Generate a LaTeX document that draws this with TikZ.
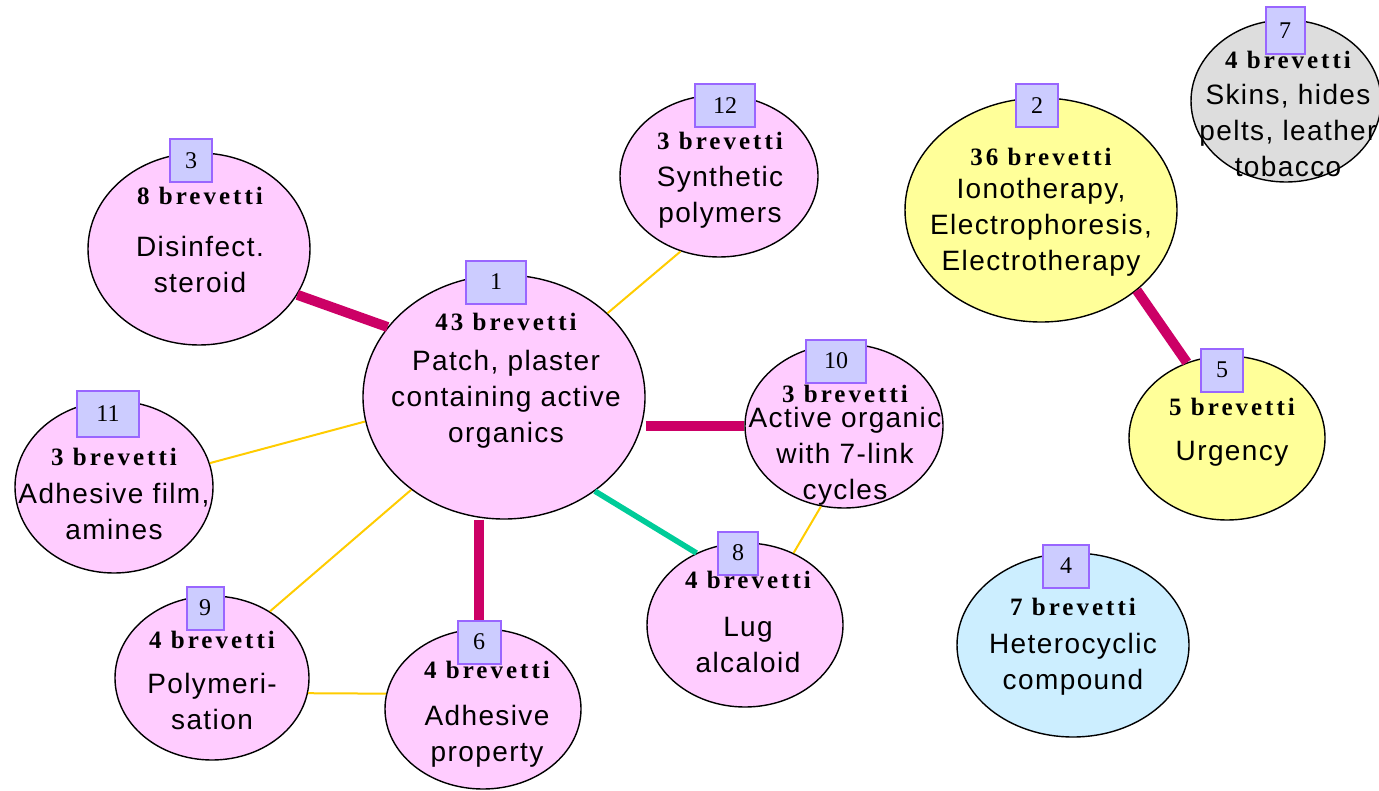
\documentclass[tikz,border=0pt]{standalone}
\usepackage{fontspec}
\setmainfont{Liberation Sans}[LetterSpace=5]
\newfontfamily\brevfont{Liberation Serif}[LetterSpace=12]
\newfontfamily\numfont{Liberation Serif}
\usetikzlibrary{shapes.geometric}
\definecolor{pinkfill}{RGB}{255,204,255}
\definecolor{yellowfill}{RGB}{255,255,153}
\definecolor{grayfill}{RGB}{221,221,221}
\definecolor{bluefill}{RGB}{204,238,255}
\definecolor{boxfill}{RGB}{204,204,255}
\definecolor{boxline}{RGB}{153,102,255}
\definecolor{strong}{RGB}{204,0,102}
\definecolor{mid}{RGB}{0,204,153}
\definecolor{weak}{RGB}{255,204,0}
\newcommand{\brev}[1]{{\brevfont\bfseries\fontsize{12.5}{14}\selectfont #1 brevetti}}

\begin{document}
\begin{tikzpicture}[x=.5pt,y=-.5pt,font=\fontsize{14}{18}\selectfont,
  blob/.style={ellipse,draw=black,line width=.7pt,inner sep=0pt},
  numbox/.style={draw=boxline,line width=1pt,fill=boxfill,minimum height=21.5pt,minimum width=21pt,inner sep=0pt,font=\numfont\fontsize{12}{14}\selectfont},
  txt/.style={align=center,inner sep=0pt},
  strongline/.style={strong,line width=5pt},
  midline/.style={mid,line width=2.8pt},
  weakline/.style={weak,line width=1pt}]
  \useasboundingbox (0,0) rectangle (1379,791);
  \node[blob,fill=pinkfill,minimum width=141pt,minimum height=122pt] (n1) at (504,397) {};
  \node[blob,fill=yellowfill,minimum width=136pt,minimum height=112pt] (n2) at (1041,210) {};
  \node[blob,fill=pinkfill,minimum width=111pt,minimum height=96pt] (n3) at (199,249) {};
  \node[blob,fill=bluefill,minimum width=116pt,minimum height=92pt] (n4) at (1073,645) {};
  \node[blob,fill=yellowfill,minimum width=98pt,minimum height=82pt] (n5) at (1227,438) {};
  \node[blob,fill=pinkfill,minimum width=98pt,minimum height=80pt] (n6) at (483,709) {};
  \node[blob,fill=grayfill,minimum width=95pt,minimum height=81pt] (n7) at (1286,101) {};
  \node[blob,fill=pinkfill,minimum width=98pt,minimum height=82pt] (n8) at (745,625) {};
  \node[blob,fill=pinkfill,minimum width=97pt,minimum height=82pt] (n9) at (212,678) {};
  \node[blob,fill=pinkfill,minimum width=99pt,minimum height=82pt] (n10) at (844,426) {};
  \node[blob,fill=pinkfill,minimum width=99pt,minimum height=86pt] (n11) at (114,487) {};
  \node[blob,fill=pinkfill,minimum width=99pt,minimum height=81pt] (n12) at (719,176) {};

  \node[txt] (t1) at (506,381) {\brev{43}\\[2pt]Patch, plaster\\containing active\\organics};
  \node[txt] (t2) at (1041,212) {\brev{36}\\[-1.5pt]Ionotherapy,\\Electrophoresis,\\Electrotherapy};
  \node[txt] (t3) at (200,240) {\brev{8}\\[8pt]Disinfect.\\steroid};
  \node[txt] (t4) at (1073,647) {\brev{7}\\[1pt]Heterocyclic\\compound};
  \node[txt] (t5) at (1232,432) {\brev{5}\\[4.5pt]Urgency};
  \node[txt] (t6) at (487,714) {\brev{4}\\[5.5pt]Adhesive\\property};
  \node[txt] (t7) at (1288,114) {\brev{4}\\Skins, hides\\pelts, leather\\tobacco};
  \node[txt] (t8) at (748,622) {\brev{4}\\[6pt]Lug\\alcaloid};
  \node[txt] (t9) at (212,680) {\brev{4}\\[4.5pt]Polymeri-\\sation};
  \node[txt] (t10) at (845,445) {\brev{3}\\[-5.5pt]Active organic\\with 7-link\\cycles};
  \node[txt] (t11) at (114,494) {\brev{3}\\[1pt]Adhesive film,\\amines};
  \node[txt] (t12) at (720,180) {\brev{3}\\[.5pt]Synthetic\\polymers};

  \draw[strongline] (n3.-25) -- (n1.149);
  \draw[weakline] (n1.39) -- (n12.-117);
  \draw[strongline] (n1.east |- n10.west) -- (n10.west);
  \draw[weakline] (n11.14) -- (n1.190);
  \draw[weakline] (n9.49) -- (n1.225);
  \draw[midline] (n1.-46) -- (n8.124);
  \draw[weakline] (n10.254) -- (n8.56);
  \draw[weakline] (n9.-9) -- (n6.171);
  \draw[strongline] (n2.-40) -- (n5.118);

  \node[numbox,minimum width=30pt] (b1) at (496,282) {1};
  \node[numbox] (b2) at (1037,106) {2};
  \node[numbox] (b3) at (191,161) {3};
  \node[numbox,minimum width=23pt] (b4) at (1066,566) {4};
  \node[numbox] (b5) at (1222,370) {5};
  \node[numbox,minimum width=21.5pt] (b6) at (479,642) {6};
  \node[numbox,minimum width=19.5pt,minimum height=23.5pt] (b7) at (1285,31) {7};
  \node[numbox,minimum width=20pt] (b8) at (738,553) {8};
  \node[numbox,minimum width=18.5pt] (b9) at (205,608) {9};
  \node[numbox,minimum width=30pt] (b10) at (836,361) {10};
  \node[numbox,minimum width=31pt,minimum height=23pt] (b11) at (108,414) {11};
  \node[numbox,minimum width=30pt] (b12) at (725,106) {12};
  \draw[strongline] (b6.north |- n1.south) -- (b6.north);
\end{tikzpicture}
\end{document}
